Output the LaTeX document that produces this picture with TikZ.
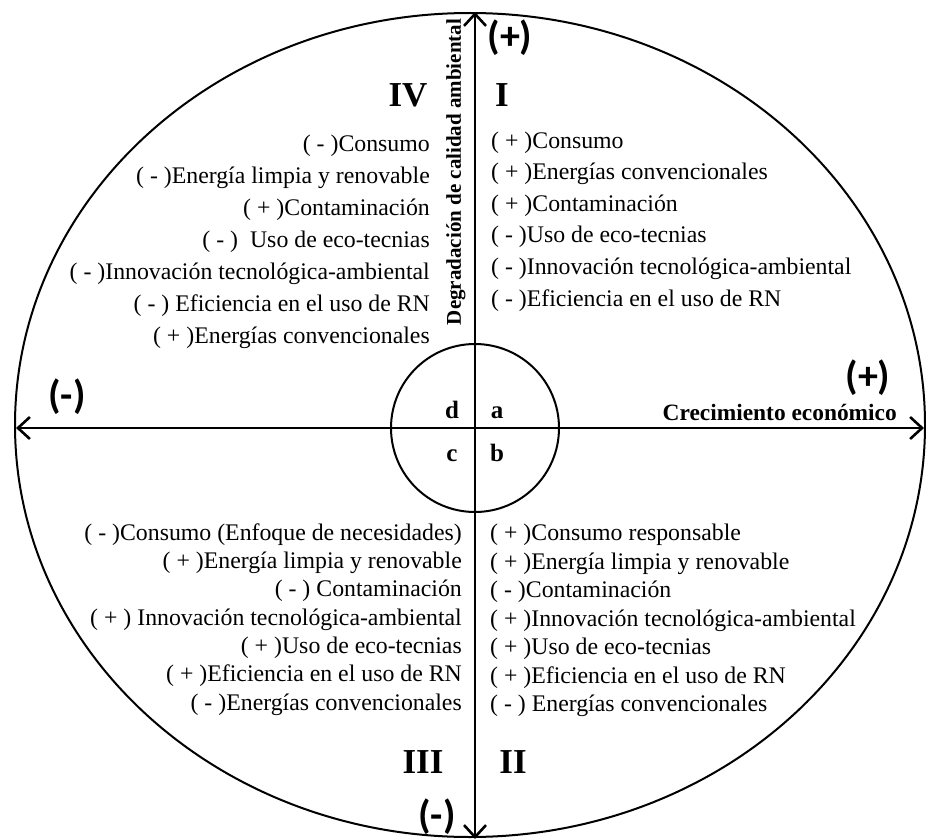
\documentclass[tikz,border=0pt]{standalone}
\usepackage{fontspec}
\setmainfont{Liberation Serif}
\newfontfamily\signfont{Carlito}
\usetikzlibrary{arrows.meta}
\begin{document}
\begin{tikzpicture}[x=1pt,y=-1pt,
  itm/.style={font=\fontsize{23.8}{28}\selectfont, inner sep=0pt},
  roman/.style={font=\bfseries\fontsize{35}{40}\selectfont, inner sep=0pt},
  sgn/.style={font=\signfont\bfseries\fontsize{40}{46}\selectfont, inner sep=0pt},
  axlab/.style={font=\bfseries\fontsize{23.4}{27}\selectfont, inner sep=0pt},
  vlab/.style={font=\bfseries\fontsize{21}{25}\selectfont, inner sep=0pt},
  zone/.style={font=\bfseries\fontsize{25}{29}\selectfont, inner sep=0pt},
  axisline/.style={line width=2.8pt, {Straight Barb[length=12pt,width=22pt,line width=2.6pt]}-{Straight Barb[length=12pt,width=22pt,line width=2.6pt]}},
  outline/.style={line width=2pt}]
\useasboundingbox (0,0) rectangle (926,840);
% outer ellipse and inner circle
\draw[outline] (470,425) ellipse [x radius=455pt, y radius=412pt];
\draw[outline] (475,428) circle [radius=84pt];
% axes
\coordinate (L) at (16,428);
\coordinate (R) at (924,428);
\coordinate (T) at (475,12);
\coordinate (B) at (475,839);
\draw[axisline] (L) -- (R);
\draw[axisline] (B) -- (T);
% axis signs
\node[sgn] (ptop) at (510,38) {(+)};
\node[sgn] (mleft) at (67,397) {(-)};
\node[sgn] (pright) at (868,378) {(+)};
\node[sgn] (mbot) at (437,817) {(-)};
% axis labels
\node[axlab, anchor=base east] (xlab) at (897,420) {Crecimiento económico};
\node[vlab, rotate=90] (ylab) at (456,172) {Degradación de calidad ambiental};
% inner circle letters
\node[zone, anchor=base] (zd) at (452,418) {d};
\node[zone, anchor=base] (za) at (497,418) {a};
\node[zone, anchor=base] (zc) at (452,461) {c};
\node[zone, anchor=base] (zb) at (497,461) {b};
% roman numerals
\node[roman, anchor=base] (rIV) at (408,107) {IV};
\node[roman, anchor=base] (rI) at (502,107) {I};
\node[roman, anchor=base] (rIII) at (423,773) {III};
\node[roman, anchor=base] (rII) at (513,773) {II};
% Quadrant I
\node[itm, anchor=base west] (q1a) at (491,148) {( + )Consumo};
\node[itm, anchor=base west] (q1b) at (491,179.6) {( + )Energías convencionales};
\node[itm, anchor=base west] (q1c) at (491,211.2) {( + )Contaminación};
\node[itm, anchor=base west] (q1d) at (491,242.8) {( - )Uso de eco-tecnias};
\node[itm, anchor=base west] (q1e) at (491,274.4) {( - )Innovación tecnológica-ambiental};
\node[itm, anchor=base west] (q1f) at (491,306) {( - )Eficiencia en el uso de RN};
% Quadrant IV
\node[itm, anchor=base east] (q4a) at (430,152) {( - )Consumo};
\node[itm, anchor=base east] (q4b) at (430,183.8) {( - )Energía limpia y renovable};
\node[itm, anchor=base east] (q4c) at (430,215.7) {( + )Contaminación};
\node[itm, anchor=base east] (q4d) at (430,247.5) {( - )~~Uso de eco-tecnias};
\node[itm, anchor=base east] (q4e) at (430,279.3) {( - )Innovación tecnológica-ambiental};
\node[itm, anchor=base east] (q4f) at (430,311.2) {( - ) Eficiencia en el uso de RN};
\node[itm, anchor=base east] (q4g) at (430,343) {( + )Energías convencionales};
% Quadrant III
\node[itm, anchor=base east] (q3a) at (462,540) {( - )Consumo (Enfoque de necesidades)};
\node[itm, anchor=base east] (q3b) at (462,568.3) {( + )Energía limpia y renovable};
\node[itm, anchor=base east] (q3c) at (462,596.7) {( - ) Contaminación};
\node[itm, anchor=base east] (q3d) at (462,625) {( + ) Innovación tecnológica-ambiental};
\node[itm, anchor=base east] (q3e) at (462,653.3) {( + )Uso de eco-tecnias};
\node[itm, anchor=base east] (q3f) at (462,681.7) {( + )Eficiencia en el uso de RN};
\node[itm, anchor=base east] (q3g) at (462,710) {( - )Energías convencionales};
% Quadrant II
\node[itm, anchor=base west] (q2a) at (490,540.5) {( + )Consumo responsable};
\node[itm, anchor=base west] (q2b) at (490,569) {( + )Energía limpia y renovable};
\node[itm, anchor=base west] (q2c) at (490,597.5) {( - )Contaminación};
\node[itm, anchor=base west] (q2d) at (490,626) {( + )Innovación tecnológica-ambiental};
\node[itm, anchor=base west] (q2e) at (490,654.5) {( + )Uso de eco-tecnias};
\node[itm, anchor=base west] (q2f) at (490,683) {( + )Eficiencia en el uso de RN};
\node[itm, anchor=base west] (q2g) at (490,711.5) {( - ) Energías convencionales};
\end{tikzpicture}
\end{document}
